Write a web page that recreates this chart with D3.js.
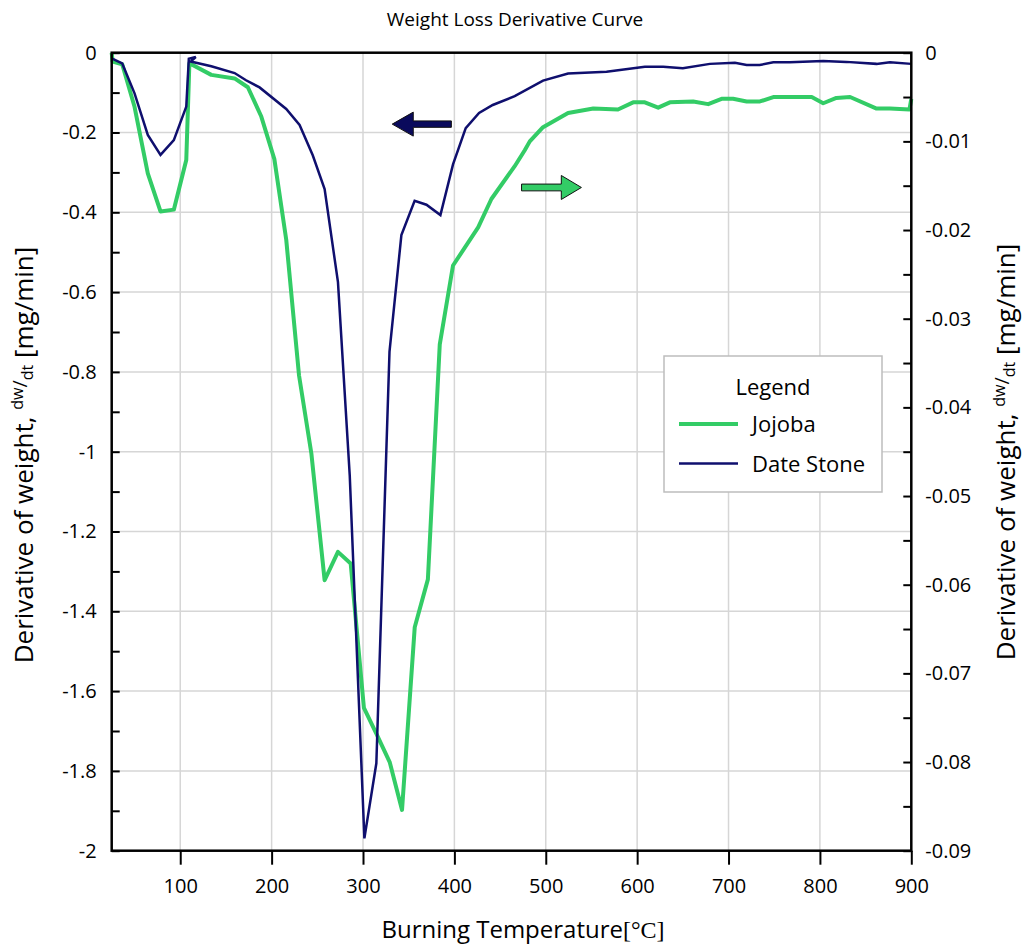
<!DOCTYPE html>
<html>
<head>
<meta charset="utf-8">
<script src="https://cdn.jsdelivr.net/npm/d3@7"></script>
<style>
  html, body { margin: 0; padding: 0; background: #fff; }
  svg text { font-family: "Open Sans", "Noto Sans", sans-serif; fill: #000; }
</style>
</head>
<body>
<svg id="chart" width="1024" height="944"></svg>
<script>
// ---------- data ----------
const dateStoneTemp = [25, 36.5, 50, 64.5, 78.4, 93, 106.6, 109.4, 117, 111.5, 134, 159.5, 172, 186.8, 216, 230.6, 245, 258, 272.6, 285.5, 301.5, 314.6, 329, 342, 356.5, 369.4, 384.7, 398.5, 412.4, 427, 442, 466, 497, 524.4, 566.5, 608.4, 628.5, 650, 679.6, 707, 719.8, 734, 749, 767, 803.6, 829, 862, 876.6, 900];
const dateStoneValue = [-0.014, -0.027, -0.102, -0.206, -0.256, -0.219, -0.135, -0.015, -0.011, -0.022, -0.034, -0.051, -0.069, -0.087, -0.141, -0.181, -0.257, -0.342, -0.575, -1.06, -1.969, -1.781, -0.749, -0.457, -0.371, -0.381, -0.407, -0.280, -0.189, -0.151, -0.131, -0.109, -0.070, -0.052, -0.048, -0.035, -0.035, -0.039, -0.028, -0.025, -0.031, -0.031, -0.024, -0.024, -0.021, -0.023, -0.028, -0.024, -0.028];

const jojobaTemp = [25, 26, 36.5, 50, 64.5, 78.4, 93, 106.6, 110, 134, 159.5, 174, 188.7, 203, 216, 230, 243.5, 258, 272.6, 286.5, 301, 314.6, 329.2, 342.7, 356.6, 371, 384, 398.5, 426, 440.5, 466, 477, 482.5, 497, 524.4, 552, 579, 595.6, 608.4, 623, 635.8, 661.3, 677.7, 692.4, 705, 719.8, 734.4, 749, 767, 791, 803.6, 818, 833, 862, 876.6, 898, 900];
const jojobaValue = [0, -0.0010, -0.0013, -0.0061, -0.0136, -0.0179, -0.0177, -0.0121, -0.0012, -0.0025, -0.0029, -0.0039, -0.0072, -0.0120, -0.0211, -0.0364, -0.0452, -0.0595, -0.0563, -0.0576, -0.0739, -0.0768, -0.0800, -0.0854, -0.0648, -0.0594, -0.0329, -0.0240, -0.0197, -0.0165, -0.0128, -0.0110, -0.0100, -0.0084, -0.0068, -0.0063, -0.0064, -0.0056, -0.0056, -0.0062, -0.0056, -0.0055, -0.0058, -0.0052, -0.0052, -0.0055, -0.0055, -0.0050, -0.0050, -0.0050, -0.0057, -0.0051, -0.0050, -0.0063, -0.0063, -0.0064, -0.0052];

const xTicks = [100, 200, 300, 400, 500, 600, 700, 800, 900];
const leftTicks = [0, -0.2, -0.4, -0.6, -0.8, -1, -1.2, -1.4, -1.6, -1.8, -2];
const rightTicks = [0, -0.01, -0.02, -0.03, -0.04, -0.05, -0.06, -0.07, -0.08, -0.09];
const seriesNames = ["Jojoba", "Date Stone"];
const seriesColors = ["#33cc66", "#0f0f6e"];

// ---------- layout ----------
const W = 1024, H = 944;
const m = { left: 111.7, right: 112.7, top: 52.7, bottom: 93.3 };
const svg = d3.select("#chart");

const x = d3.scaleLinear().domain([25, 900]).range([m.left, W - m.right]);
const yL = d3.scaleLinear().domain([-2, 0]).range([H - m.bottom, m.top]);
const yR = d3.scaleLinear().domain([-0.09, 0]).range([H - m.bottom, m.top]);

const fmt = d => d === 0 ? "0" : String(+d.toFixed(2));

// gridlines
const grid = svg.append("g").attr("stroke", "#d6d6d6").attr("stroke-width", 1.5);
xTicks.filter(t => t < 900).forEach(t => {
  grid.append("line").attr("x1", x(t)).attr("x2", x(t)).attr("y1", m.top).attr("y2", H - m.bottom);
});
leftTicks.filter(t => t !== 0 && t !== -2).forEach(t => {
  grid.append("line").attr("x1", m.left).attr("x2", W - m.right).attr("y1", yL(t)).attr("y2", yL(t));
});

// lines
const jojoba = jojobaTemp.map((t, i) => [t, jojobaValue[i]]);
const dateStone = dateStoneTemp.map((t, i) => [t, dateStoneValue[i]]);

svg.append("path").datum(jojoba)
  .attr("fill", "none").attr("stroke", seriesColors[0]).attr("stroke-width", 4)
  .attr("stroke-linejoin", "round")
  .attr("d", d3.line().x(d => x(d[0])).y(d => yR(d[1])));

svg.append("path").datum(dateStone)
  .attr("fill", "none").attr("stroke", seriesColors[1]).attr("stroke-width", 2.5)
  .attr("stroke-linejoin", "miter")
  .attr("d", d3.line().x(d => x(d[0])).y(d => yL(d[1])));

// axes
const axisStyle = g => {
  g.select(".domain").remove();
  g.selectAll(".tick line").attr("stroke", "#000").attr("stroke-width", 2);
  g.selectAll(".tick text").style("font-size", "20px").style("font-family", '"Open Sans", sans-serif');
};

svg.append("g").attr("transform", `translate(0,${H - m.bottom})`)
  .call(d3.axisBottom(x).tickValues(xTicks).tickSize(14).tickPadding(14).tickFormat(d3.format("d")))
  .call(axisStyle);

// left axis: labels and minor ticks inside
svg.append("g").attr("transform", `translate(${m.left},0)`)
  .call(d3.axisLeft(yL).tickValues(leftTicks).tickSize(0).tickPadding(15).tickFormat(fmt))
  .call(axisStyle);
svg.append("g").attr("transform", `translate(${m.left},0)`)
  .call(d3.axisRight(yL).tickValues(d3.range(0, 21).map(i => -i / 10)).tickSize(8).tickFormat(""))
  .call(axisStyle);

// right axis
svg.append("g").attr("transform", `translate(${W - m.right},0)`)
  .call(d3.axisRight(yR).tickValues(rightTicks).tickSize(0).tickPadding(14).tickFormat(fmt))
  .call(axisStyle);
svg.append("g").attr("transform", `translate(${W - m.right},0)`)
  .call(d3.axisLeft(yR).tickValues(d3.range(0, 19).map(i => -i * 0.005)).tickSize(8).tickFormat(""))
  .call(axisStyle);

// frame
svg.append("rect").attr("x", m.left).attr("y", m.top)
  .attr("width", W - m.left - m.right).attr("height", H - m.top - m.bottom)
  .attr("fill", "none").attr("stroke", "#000").attr("stroke-width", 2.5);

// title
svg.append("text").attr("x", 515).attr("y", 26).attr("text-anchor", "middle")
  .style("font-size", "19px").text("Weight Loss Derivative Curve");

// x title
const xt = svg.append("text").attr("x", 523).attr("y", 938).attr("text-anchor", "middle")
  .style("font-size", "24px");
xt.append("tspan").text("Burning Temperature");
xt.append("tspan").style("font-family", '"Liberation Serif", serif').text("[°C]");

// y titles
function yTitle(cx, cy) {
  const t = svg.append("text").attr("transform", `translate(${cx},${cy}) rotate(-90)`)
    .attr("text-anchor", "middle").style("font-size", "26px");
  t.append("tspan").text("Derivative of weight, ");
  t.append("tspan").attr("dy", -10).style("font-size", "16px").text("dw");
  t.append("tspan").attr("dy", 4).style("font-size", "20px").text("/");
  t.append("tspan").attr("dy", 6).style("font-size", "16px").text("dt");
  t.append("tspan").attr("dy", 0).text(" [mg/min]");
}
yTitle(33, 455);
yTitle(1015, 452);

// direction arrows (annotations, placed in data space)
function arrow(x0, x1, xh, yv, scaleY, halfShaft, halfHead, fill) {
  const yc = scaleY(yv);
  const X0 = x(x0), X1 = x(x1), XH = x(xh);
  const pts = [
    [X0, yc - halfShaft], [XH, yc - halfShaft], [XH, yc - halfHead], [X1, yc],
    [XH, yc + halfHead], [XH, yc + halfShaft], [X0, yc + halfShaft]
  ];
  svg.append("path").attr("d", d3.line()(pts) + "Z")
    .attr("fill", fill).attr("stroke", "#111").attr("stroke-width", 1);
}
arrow(396.7, 332, 355, -0.179, yL, 3.2, 12, "#0a0a5c");
arrow(473.5, 539, 517, -0.0152, yR, 3.4, 12, "#33cc66");

// legend
const lg = svg.append("g");
lg.append("rect").attr("x", 664).attr("y", 356).attr("width", 218).attr("height", 136)
  .attr("fill", "#fff").attr("stroke", "#bdbdbd").attr("stroke-width", 1.5);
lg.append("text").attr("x", 773).attr("y", 395).attr("text-anchor", "middle")
  .style("font-size", "22px").text("Legend");
seriesNames.forEach((name, i) => {
  const yy = 424 + i * 39.5;
  lg.append("line").attr("x1", 679).attr("x2", 738).attr("y1", yy).attr("y2", yy)
    .attr("stroke", seriesColors[i]).attr("stroke-width", i === 0 ? 4 : 2.5);
  lg.append("text").attr("x", 752).attr("y", yy + 8).style("font-size", "22px").text(name);
});
</script>
</body>
</html>
